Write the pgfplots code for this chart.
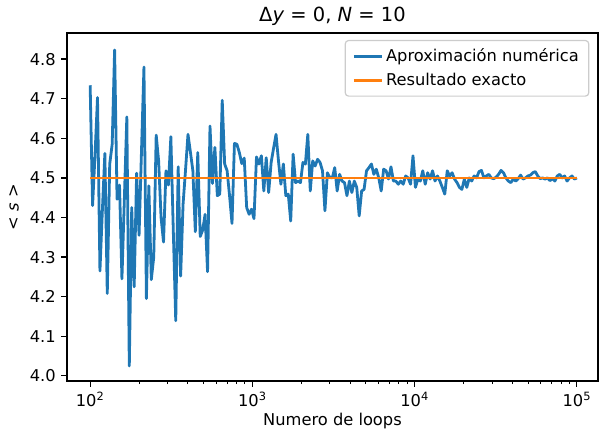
\documentclass[border=0pt]{standalone}
\usepackage{fontspec}
\setmainfont{DejaVu Sans}
\usepackage{pgfplots}
\usepackage{pgfplotstable}
\pgfplotsset{compat=1.18}
\definecolor{c0}{HTML}{1F77B4}
\definecolor{c1}{HTML}{FF7F0E}

% loops, <s>
\pgfplotstableread{
loops s
100 4.734
103.5 4.43
107.2 4.56
111.0 4.703
114.9 4.265
119.0 4.42
123.2 4.562
127.5 4.208
132.0 4.535
136.7 4.585
141.5 4.823
146.5 4.446
151.7 4.482
157.0 4.245
162.6 4.45
168.3 4.654
174.3 4.025
180.4 4.425
186.8 4.225
193.4 4.512
200.2 4.355
207.3 4.57
214.6 4.78
222.2 4.195
230.0 4.48
238.2 4.243
246.6 4.30
255.3 4.608
264.3 4.543
273.6 4.40
283.3 4.338
293.3 4.518
303.7 4.482
314.4 4.604
325.5 4.366
337.0 4.139
348.9 4.528
361.2 4.252
374.0 4.434
387.2 4.52
400.9 4.61
415.0 4.565
429.7 4.518
444.9 4.364
460.6 4.564
476.9 4.352
493.7 4.368
511.1 4.408
529.2 4.263
547.9 4.631
567.2 4.486
587.3 4.577
608.0 4.455
629.5 4.459
651.7 4.696
674.7 4.535
698.6 4.518
723.3 4.455
748.8 4.385
775.3 4.587
802.6 4.585
831.0 4.564
860.3 4.536
890.7 4.55
922.2 4.425
954.8 4.408
988.5 4.421
1023 4.397
1060 4.553
1097 4.535
1136 4.556
1176 4.467
1217 4.551
1260 4.463
1305 4.539
1351 4.575
1399 4.610
1448 4.543
1499 4.484
1552 4.535
1607 4.455
1664 4.459
1723 4.391
1783 4.56
1846 4.488
1912 4.492
1979 4.488
2049 4.539
2121 4.535
2196 4.61
2274 4.467
2354 4.543
2437 4.53
2523 4.547
2613 4.539
2705 4.518
2800 4.417
2899 4.513
3002 4.501
3108 4.5
3218 4.526
3331 4.467
3449 4.509
3571 4.492
3697 4.488
3827 4.455
3963 4.492
4103 4.463
4247 4.492
4398 4.476
4553 4.404
4714 4.467
4880 4.471
5053 4.518
5231 4.526
5416 4.535
5607 4.509
5805 4.522
6010 4.5
6223 4.467
6442 4.522
6670 4.518
6905 4.497
7149 4.528
7402 4.492
7663 4.492
7934 4.484
8214 4.492
8504 4.484
8805 4.505
9116 4.5
9438 4.484
9771 4.556
10116 4.476
10473 4.497
10843 4.492
11226 4.518
11623 4.484
12033 4.513
12458 4.497
12898 4.518
13354 4.492
13825 4.505
14314 4.492
14819 4.476
15343 4.459
15885 4.518
16446 4.505
17026 4.513
17628 4.497
18251 4.488
18896 4.476
19563 4.471
20254 4.497
20969 4.476
21710 4.5
22477 4.492
23271 4.505
24093 4.5
24944 4.516
25825 4.519
26737 4.5
27682 4.505
28659 4.509
29672 4.5
30720 4.498
31805 4.502
32929 4.509
34091 4.519
35296 4.513
36542 4.5
37833 4.492
39169 4.488
40552 4.497
41985 4.492
43468 4.498
45003 4.507
46593 4.497
48239 4.5
49943 4.505
51707 4.507
53533 4.513
55424 4.516
57382 4.505
59409 4.498
61507 4.5
63680 4.497
65929 4.5
68258 4.493
70669 4.498
73164 4.492
75748 4.505
78424 4.509
81194 4.5
84062 4.505
87031 4.492
90105 4.5
93288 4.505
96583 4.497
100000 4.5
}\numerica

\begin{document}
\fontsize{12.2}{14.6}\selectfont
\begin{tikzpicture}
\begin{axis}[
  xmode=log,
  scale only axis,
  width=398.25pt,
  height=261pt,
  xmin=72, xmax=135000,
  ymin=3.987, ymax=4.866,
  xtick={100,1000,10000,100000},
  xticklabels={10\textsuperscript{2},10\textsuperscript{3},10\textsuperscript{4},10\textsuperscript{5}},
  ytick={4.0,4.1,4.2,4.3,4.4,4.5,4.6,4.7,4.8},
  yticklabel style={/pgf/number format/fixed,/pgf/number format/fixed zerofill,/pgf/number format/precision=1,/pgf/number format/assume math mode=true},
  tick align=outside,
  tick pos=left,
  major tick length=4.2pt,
  minor tick length=2.4pt,
  every major tick/.style={line width=0.95pt,black},
  every minor tick/.style={line width=0.72pt,black},
  axis line style={line width=0.95pt},
  ticklabel style={font=\fontsize{12.2}{14.6}\selectfont},
  title={Δ\textit{y} = 0, \textit{N} = 10},
  title style={font=\fontsize{14.6}{17}\selectfont, yshift=-4.5pt},
  xlabel={Numero de loops},
  xlabel style={yshift=3.5pt},
  ylabel={< \textit{s} >},
  label style={font=\fontsize{12.2}{14.6}\selectfont},
  legend cell align=left,
  legend style={at={(1,1)}, anchor=north east, xshift=-6.5pt, yshift=-5.2pt,
    draw=black!20, rounded corners=2.5pt, line width=0.9pt,
    font=\fontsize{12.2}{14.6}\selectfont,
    inner xsep=5.5pt, inner ysep=4pt, row sep=3pt},
  legend image code/.code={\draw[#1] (0pt,0pt) -- (21pt,0pt);},
]
\addplot[c0, line width=2.1pt, line join=round] table[x=loops, y=s] {\numerica};
\addlegendentry{Aproximación numérica}
\addplot[c1, line width=2.1pt] coordinates {(100,4.5) (100000,4.5)};
\addlegendentry{Resultado exacto}
\end{axis}
\pgfresetboundingbox
\path ([xshift=-50.25pt,yshift=-37.5pt]current axis.south west) rectangle ([xshift=0.75pt,yshift=24.75pt]current axis.north east);
\end{tikzpicture}
\end{document}
